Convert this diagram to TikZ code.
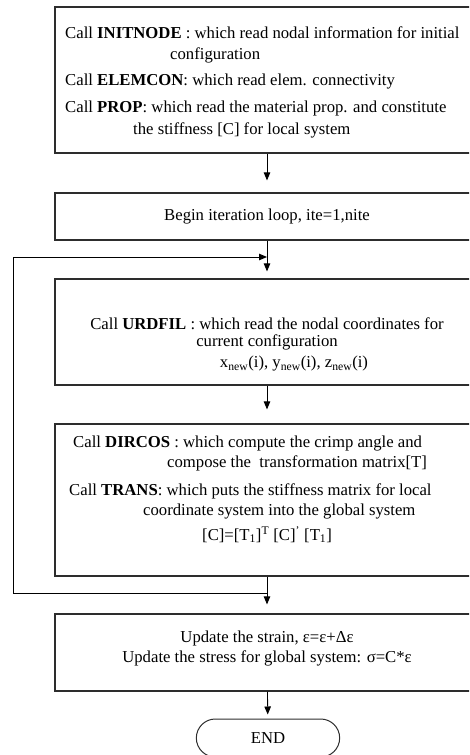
\documentclass[tikz,border=0pt]{standalone}
\usepackage{fontspec}
\setmainfont{Liberation Serif}
\usetikzlibrary{arrows.meta, positioning, shapes.misc}
\definecolor{boxline}{RGB}{45,45,45}

\begin{document}
\begin{tikzpicture}[
    x=1pt, y=-1pt,
    box/.style={draw=boxline, line width=1.2pt, minimum width=424pt, inner sep=0pt, font=\fontsize{16.7}{20.5}\selectfont, align=center},
    txt/.style={inner sep=0pt, font=\fontsize{16.7}{20.5}\selectfont},
    arrow/.style={-{Triangle[length=8pt,width=6.5pt]}, line width=0.9pt}
]
    \useasboundingbox (0,0) rectangle (469,755);
    \clip (0,0) rectangle (469,755);

    % Flow boxes
    \node[box, minimum height=146pt] (init) at (267,80) {};
    \node[box, minimum height=47pt] (loopbeg) at (267,216.5) {Begin iteration loop, ite=1,nite};
    \node[box, minimum height=106pt] (urdfil) at (267,332) {};
    \node[box, minimum height=152pt] (dircos) at (267,500) {};
    \node[box, minimum height=77pt] (update) at (267,652.5) {\\[-16pt]Update the strain, ε=ε+Δε\\[-0.5pt]
        Update the stress for global system: σ=C*ε};
    \node[draw=boxline, line width=1pt, rounded rectangle, minimum width=150pt, minimum height=38pt, font=\fontsize{16.7}{20.5}\selectfont] (end) at (268,738) {END};

    % Box texts
    \node[txt, align=left, anchor=north west] (inittxt) at (65,26.5) {Call \textbf{INITNODE} : which read nodal information for initial\\[0.5pt]
        \hspace*{105pt}configuration\\[5.5pt]
        Call \textbf{ELEMCON}: which read elem. connectivity\\[6.5pt]
        Call \textbf{PROP}: which read the material prop. and constitute\\[1.5pt]
        \hspace*{68pt}the stiffness [C] for local system};
    \node[txt, align=center, anchor=north] (urdfiltxt) at (267,317.5) {Call \textbf{URDFIL} : which read the nodal coordinates for\\[-3.5pt]
        current configuration\\[0.5pt]
        \hspace*{54pt}x\textsubscript{new}(i), y\textsubscript{new}(i), z\textsubscript{new}(i)};
    \node[txt, align=left, anchor=north west] (dircostxt) at (69,435.5) {\hspace*{4pt}Call \textbf{DIRCOS} : which compute the crimp angle and\\[-0.5pt]
        \hspace*{98pt}compose the\ \ transformation matrix[T]\\[7.5pt]
        Call \textbf{TRANS}: which puts the stiffness matrix for local\\[-0.5pt]
        \hspace*{74pt}coordinate system into the global system\\[4.5pt]
        \hspace*{133pt}[C]=[T\textsubscript{1}]\textsuperscript{T} [C]\textsuperscript{'} [T\textsubscript{1}]};

    % Arrows
    \coordinate (join1) at (267,257);
    \coordinate (join2) at (267,593);
    \draw[arrow, shorten >=12pt] (init) -- (loopbeg);
    \draw[arrow, shorten >=7pt] (loopbeg) -- (urdfil);
    \draw[arrow, shorten >=14pt] (urdfil) -- (dircos);
    \draw[arrow, shorten >=9pt] (dircos) -- (update);
    \draw[arrow, shorten >=4pt] (update) -- (end);

    % Iteration loop back
    \draw[arrow] (join2) -- ++(-254,0) |- (join1);
\end{tikzpicture}
\end{document}
